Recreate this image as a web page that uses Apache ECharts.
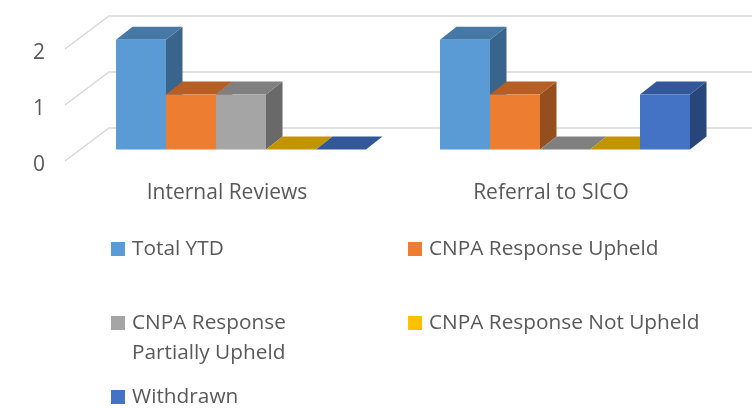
<!DOCTYPE html>
<html>
<head>
<meta charset="utf-8">
<script src="https://cdn.jsdelivr.net/npm/echarts@6/dist/echarts.min.js"></script>
<style>html,body{margin:0;padding:0;background:#fff}#c{width:752px;height:408px}</style>
</head>
<body>
<div id="c"></div>
<script>
const categories = ['Internal Reviews', 'Referral to SICO'];
const seriesNames = ['Total YTD', 'CNPA Response Upheld', 'CNPA Response Partially Upheld', 'CNPA Response Not Upheld', 'Withdrawn'];
const totalYtd = [2, 2];
const responseUpheld = [1, 1];
const partiallyUpheld = [1, 0];
const notUpheld = [0, 0];
const withdrawn = [0, 1];
const yTicks = [0, 1, 2];

const seriesValues = [totalYtd, responseUpheld, partiallyUpheld, notUpheld, withdrawn];
const frontColors = ['#5B9BD5', '#ED7D31', '#A5A5A5', '#FFC000', '#4472C4'];
const topColors = ['#4678A6', '#B55E25', '#808080', '#C29500', '#335899'];
const sideColors = ['#39658D', '#954F1E', '#696969', '#9A7600', '#284679'];
const FONT = 'Open Sans';
const TEXT = '#595959';

const chart = echarts.init(document.getElementById('c'), null, {renderer: 'canvas'});

function poly(points, color) {
  return {type: 'polygon', shape: {points}, style: {fill: color}};
}

function barRender(idx) {
  return function (params, api) {
    const cat = api.value(0), val = api.value(1);
    const band = api.size([1, 0])[0];
    const unit = api.size([0, 1])[1] * 0.98;
    const w = band * 50 / 324;
    const dx = 16.5, dy = 13;
    const c = api.coord([cat, 0]);
    const x = c[0] + 14 + (idx - 2.5) * w;
    const base = c[1] - 11.5;
    const top = base - val * unit;
    const children = [];
    if (val > 0) {
      children.push(poly([[x + w, top], [x + w + dx, top - dy], [x + w + dx, base - dy], [x + w, base]], sideColors[idx]));
    }
    children.push(poly([[x, top], [x + dx, top - dy], [x + w + dx, top - dy], [x + w, top]], topColors[idx]));
    if (val > 0) {
      children.push({type: 'rect', shape: {x, y: top, width: w, height: base - top}, style: {fill: frontColors[idx]}});
    }
    return {type: 'group', children};
  };
}

function wallRender(params, api) {
  const y = api.coord([0, api.value(0)])[1];
  const left = params.coordSys.x;
  const right = left + params.coordSys.width + 44;
  return {
    type: 'polyline',
    shape: {points: [[left, y], [left + 44, y - 33], [right, y - 33]]},
    style: {stroke: '#D9D9D9', lineWidth: 1.5, fill: null}
  };
}

const legendText = {fontFamily: FONT, fontSize: 20.8, color: TEXT, lineHeight: 30, padding: [14, 0, 0, 2]};
function legendAt(name, left, top, extra) {
  return Object.assign({
    data: [name], left, top, padding: 0, itemWidth: 14, itemHeight: 14, itemGap: 6,
    icon: 'rect', selectedMode: false, textStyle: legendText
  }, extra || {});
}

const option = {
  animation: false,
  backgroundColor: '#fff',
  grid: {left: 65, right: 39, top: 49, bottom: 247},
  xAxis: {
    type: 'category', data: categories,
    axisLine: {show: false}, axisTick: {show: false},
    axisLabel: {fontFamily: FONT, fontSize: 21, color: TEXT, margin: 22}
  },
  yAxis: {
    type: 'value', min: 0, max: 2, interval: 1,
    axisLine: {show: false}, axisTick: {show: false}, splitLine: {show: false},
    axisLabel: {fontFamily: FONT, fontSize: 21, color: TEXT, margin: 20, verticalAlign: 'top', lineHeight: 9}
  },
  legend: [
    legendAt(seriesNames[0], 111, 227),
    legendAt(seriesNames[1], 408, 227),
    legendAt(seriesNames[2], 111, 271, {
      formatter: n => ' \nCNPA Response\nPartially Upheld'
    }),
    legendAt(seriesNames[3], 408, 301),
    legendAt(seriesNames[4], 111, 375)
  ],
  series: [
    {type: 'custom', name: 'wall', silent: true, clip: false, z: 1,
     data: yTicks.map(v => [v]), encode: {y: 0}, renderItem: wallRender},
    ...seriesNames.map((name, i) => ({
      type: 'custom', name, clip: false, z: 2 + i,
      itemStyle: {color: frontColors[i]},
      encode: {x: 0, y: 1},
      data: seriesValues[i].map((v, c) => [c, v]),
      renderItem: barRender(i)
    }))
  ]
};
chart.setOption(option);
</script>
</body>
</html>
